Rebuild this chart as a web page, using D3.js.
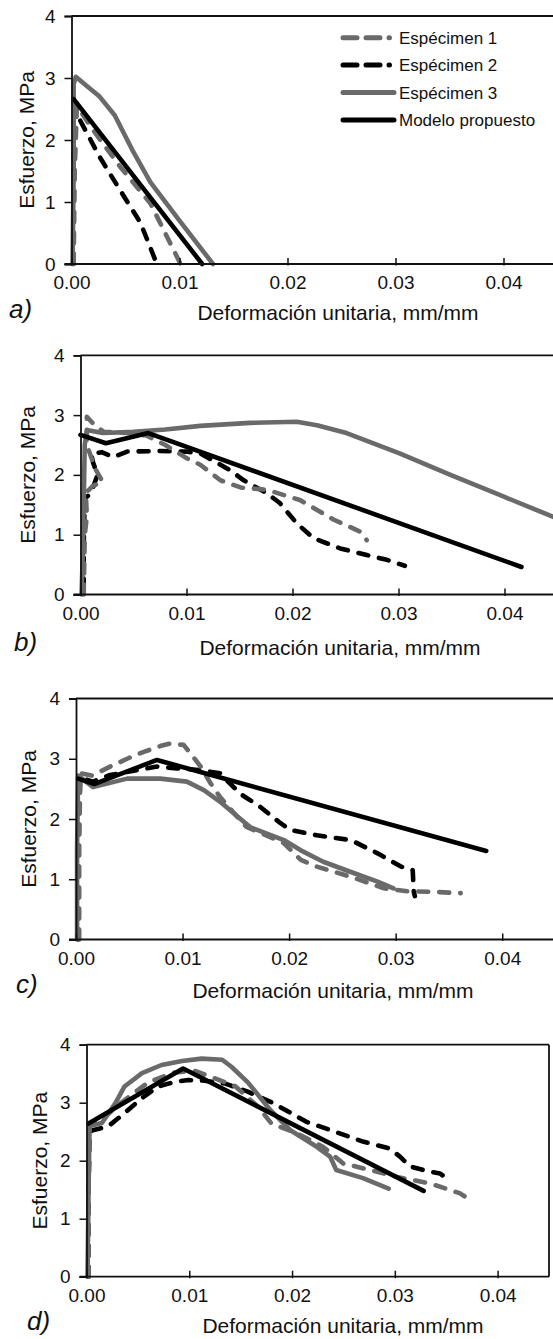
<!DOCTYPE html>
<html>
<head>
<meta charset="utf-8">
<script src="https://cdn.jsdelivr.net/npm/d3@7"></script>
<style>
  body { margin: 0; background: #fff; }
  svg { display: block; }
  text { font-family: "Liberation Sans", Arial, sans-serif; fill: #111; }
</style>
</head>
<body>
<svg id="chart" width="553" height="1339"></svg>
<script>
// ticks and names
const xTicks = [0, 0.01, 0.02, 0.03, 0.04];
const yTicks = [0, 1, 2, 3, 4];
const seriesNames = ["Espécimen 1", "Espécimen 2", "Espécimen 3", "Modelo propuesto"];
const panelLabels = ["a)", "b)", "c)", "d)"];
const xTitle = "Deformación unitaria, mm/mm";
const yTitle = "Esfuerzo, MPa";

// panel a  [strain, stress]
const aSpec1 = [[0.0002, 0], [0.0003, 1.5], [0.0005, 2.55], [0.0020, 2.16], [0.0045, 1.57], [0.0073, 0.98], [0.0101, 0]];
const aSpec2 = [[0.0002, 0], [0.0002, 1.5], [0.0003, 2.5], [0.0006, 2.38], [0.0026, 1.73], [0.0045, 1.19], [0.0064, 0.66], [0.0079, 0]];
const aSpec3 = [[0.0001, 0], [0.0002, 1.5], [0.0002, 2.9], [0.0004, 3.02], [0.0015, 2.86], [0.0026, 2.70], [0.0040, 2.40], [0.0056, 1.85], [0.0073, 1.32], [0.0100, 0.70], [0.0131, 0]];
const aModel = [[0.0002, 2.66], [0.0121, 0]];

// panel b
const bSpec1 = [[0.0003, 0], [0.0004, 1.0], [0.0006, 1.3], [0.0005, 1.7], [0.0012, 1.82], [0.0021, 1.88], [0.0014, 2.1], [0.0006, 2.5], [0.0006, 2.97], [0.0014, 2.82], [0.0022, 2.72], [0.0045, 2.70], [0.0062, 2.66], [0.0080, 2.50], [0.0100, 2.28], [0.0113, 2.17], [0.0132, 1.91], [0.0151, 1.79], [0.0176, 1.75], [0.0207, 1.58], [0.0239, 1.25], [0.0264, 1.05], [0.0270, 0.91]];
const bSpec2 = [[0.0003, 0.1], [0.0003, 0.8], [0.0004, 1.6], [0.0010, 1.7], [0.0016, 2.0], [0.0012, 2.2], [0.0010, 2.35], [0.0020, 2.38], [0.0031, 2.30], [0.0044, 2.39], [0.0075, 2.40], [0.0100, 2.39], [0.0113, 2.36], [0.0141, 2.08], [0.0154, 1.91], [0.0176, 1.69], [0.0188, 1.53], [0.0204, 1.19], [0.0220, 0.94], [0.0245, 0.77], [0.0270, 0.66], [0.0289, 0.58], [0.0306, 0.48]];
const bSpec3 = [[0.0001, 0], [0.0002, 0.6], [0.0003, 1.5], [0.0004, 2.5], [0.0006, 2.75], [0.0021, 2.70], [0.0050, 2.72], [0.0080, 2.76], [0.0113, 2.82], [0.0160, 2.87], [0.0204, 2.89], [0.0223, 2.83], [0.0251, 2.70], [0.0301, 2.36], [0.0349, 2.0], [0.0396, 1.66], [0.0450, 1.27]];
const bModel = [[0, 2.67], [0.0024, 2.53], [0.0064, 2.70], [0.0416, 0.46]];

// panel c
const cSpec1 = [[0.0003, 0], [0.0003, 1.5], [0.0004, 2.76], [0.0015, 2.72], [0.0032, 2.87], [0.0048, 3.0], [0.0063, 3.11], [0.0079, 3.21], [0.0088, 3.25], [0.0101, 3.23], [0.0110, 3.03], [0.0117, 2.87], [0.0126, 2.6], [0.0135, 2.37], [0.0154, 1.98], [0.0160, 1.87], [0.0195, 1.6], [0.0211, 1.32], [0.0226, 1.21], [0.0258, 1.04], [0.0289, 0.85], [0.0311, 0.80], [0.0336, 0.79], [0.0361, 0.77]];
const cSpec2 = [[0.0002, 0], [0.0002, 1.5], [0.0004, 2.68], [0.0016, 2.62], [0.0032, 2.73], [0.0057, 2.81], [0.0076, 2.87], [0.0095, 2.84], [0.0117, 2.81], [0.0135, 2.76], [0.0154, 2.42], [0.0173, 2.2], [0.0192, 1.93], [0.0201, 1.82], [0.0226, 1.73], [0.0258, 1.65], [0.0283, 1.43], [0.0305, 1.21], [0.0316, 1.15], [0.0317, 0.79], [0.0318, 0.72]];
const cSpec3 = [[0.0001, 0], [0.0001, 1.5], [0.0002, 2.72], [0.0016, 2.53], [0.0048, 2.67], [0.0079, 2.67], [0.0104, 2.62], [0.0120, 2.48], [0.0135, 2.29], [0.0151, 2.05], [0.0164, 1.86], [0.0170, 1.82], [0.0195, 1.65], [0.0211, 1.48], [0.0232, 1.29], [0.0258, 1.12], [0.0283, 0.96], [0.0298, 0.85]];
const cModel = [[0.0002, 2.67], [0.0017, 2.58], [0.0076, 2.98], [0.0385, 1.47]];

// panel d
const dSpec1 = [[0.0002, 0], [0.0002, 1.5], [0.0003, 2.6], [0.0015, 2.7], [0.0030, 2.95], [0.0060, 3.35], [0.0085, 3.52], [0.0105, 3.55], [0.0125, 3.42], [0.0145, 3.28], [0.0167, 2.93], [0.0180, 2.64], [0.0205, 2.47], [0.0230, 2.24], [0.0250, 1.95], [0.0276, 1.84], [0.0302, 1.72], [0.0334, 1.61], [0.0363, 1.44], [0.0371, 1.35]];
const dSpec2 = [[0.0002, 0], [0.0002, 1.5], [0.0003, 2.5], [0.0007, 2.53], [0.0021, 2.59], [0.0037, 2.82], [0.0054, 3.08], [0.0070, 3.28], [0.0086, 3.36], [0.0099, 3.39], [0.0115, 3.38], [0.0135, 3.33], [0.0157, 3.19], [0.0182, 2.99], [0.0214, 2.67], [0.0237, 2.53], [0.0269, 2.33], [0.0295, 2.21], [0.0305, 2.07], [0.0315, 1.9], [0.0334, 1.81], [0.0344, 1.78], [0.0352, 1.67]];
const dSpec3 = [[0.0001, 0], [0.0002, 1.5], [0.0003, 2.6], [0.0015, 2.65], [0.0028, 2.99], [0.0037, 3.28], [0.0054, 3.51], [0.0073, 3.65], [0.0093, 3.72], [0.0112, 3.76], [0.0132, 3.74], [0.0141, 3.62], [0.0157, 3.35], [0.0179, 2.87], [0.0198, 2.53], [0.0224, 2.24], [0.0237, 2.07], [0.0243, 1.84], [0.0269, 1.70], [0.0294, 1.52]];
const dModel = [[0.0002, 2.64], [0.0094, 3.59], [0.0328, 1.48]];

const panelSeries = [
    [aSpec1, aSpec2, aSpec3, aModel],
    [bSpec1, bSpec2, bSpec3, bModel],
    [cSpec1, cSpec2, cSpec3, cModel],
    [dSpec1, dSpec2, dSpec3, dModel]
];

// layout of the four plots (pixels)
const layout = [
    { left: 71.5, right: 557.5, top: 16, bottom: 264, yTitleX: 26.5, xTitleX: 338, xTitleY: 320, labX: 9, labY: 318 },
    { left: 80.5, right: 557.5, top: 355.3, bottom: 594.5, yTitleX: 27.5, xTitleX: 340, xTitleY: 655, labX: 14, labY: 651 },
    { left: 76, right: 555.5, top: 698.5, bottom: 939.5, yTitleX: 28.5, xTitleX: 333, xTitleY: 998, labX: 16, labY: 993 },
    { left: 86.5, right: 549, top: 1044.7, bottom: 1276.7, yTitleX: 39.5, xTitleX: 343, xTitleY: 1333, labX: 27, labY: 1330 }
];

const gray = "#6a6a6a";
const styles = [
    { color: gray, dash: "10,11" },
    { color: "#000", dash: "10,11" },
    { color: gray, dash: null },
    { color: "#000", dash: null }
];
// draw black dashed first so the grey rise covers it
const drawOrder = [1, 0, 2, 3];

const svg = d3.select("#chart");

layout.forEach(function (L, i) {
    let x = d3.scaleLinear().domain([0, 0.045]).range([L.left, L.right]);
    let y = d3.scaleLinear().domain([0, 4]).range([L.bottom, L.top]);
    let g = svg.append("g");

    // series lines
    let line = d3.line().x(d => x(d[0])).y(d => y(d[1]));
    drawOrder.forEach(function (k) {
        g.append("path")
            .datum(panelSeries[i][k])
            .attr("d", line)
            .attr("fill", "none")
            .attr("stroke", styles[k].color)
            .attr("stroke-width", 4.6)
            .attr("stroke-linecap", "round")
            .attr("stroke-linejoin", "round")
            .attr("stroke-dasharray", styles[k].dash);
    });

    // frame: top and right
    g.append("line").attr("x1", L.left).attr("x2", L.right).attr("y1", L.top).attr("y2", L.top)
        .attr("stroke", "#111").attr("stroke-width", 1.8);
    g.append("line").attr("x1", L.right).attr("x2", L.right).attr("y1", L.top).attr("y2", L.bottom)
        .attr("stroke", "#111").attr("stroke-width", 1.8);

    // x axis
    let xAxis = g.append("g").attr("transform", `translate(0,${L.bottom})`)
        .call(d3.axisBottom(x).tickValues(xTicks).tickFormat(d3.format(".2f")).tickSize(0).tickPadding(12));
    xAxis.select(".domain").remove();
    xAxis.selectAll(".tick line").remove();
    xAxis.selectAll(".tick").append("line").attr("y1", -6).attr("y2", 1.5).attr("stroke", "#111").attr("stroke-width", 1.5);
    xAxis.selectAll("text").attr("font-size", 19).attr("fill", "#111")
        .attr("font-family", "Liberation Sans, Arial, sans-serif");
    g.append("line").attr("x1", L.left - 7).attr("x2", L.right).attr("y1", L.bottom).attr("y2", L.bottom)
        .attr("stroke", "#111").attr("stroke-width", 1.8);

    // y axis
    let yAxis = g.append("g").attr("transform", `translate(${L.left},0)`)
        .call(d3.axisLeft(y).tickValues(yTicks).tickFormat(d3.format("d")).tickSize(7).tickPadding(9));
    yAxis.select(".domain").attr("stroke", "#111").attr("stroke-width", 1.8);
    yAxis.selectAll(".tick line").attr("stroke", "#111").attr("stroke-width", 1.5);
    yAxis.selectAll("text").attr("font-size", 19).attr("fill", "#111")
        .attr("font-family", "Liberation Sans, Arial, sans-serif");

    // titles
    g.append("text").attr("x", L.xTitleX).attr("y", L.xTitleY)
        .attr("text-anchor", "middle").attr("font-size", 21).text(xTitle);
    g.append("text")
        .attr("transform", `translate(${L.yTitleX + 7},${(L.top + L.bottom) / 2}) rotate(-90)`)
        .attr("text-anchor", "middle").attr("font-size", 21).text(yTitle);
    g.append("text").attr("x", L.labX).attr("y", L.labY)
        .attr("font-family", "Liberation Serif, Times New Roman, serif")
        .attr("font-style", "italic").attr("font-size", 26).text(panelLabels[i]);

    // legend only in panel a
    if (i === 0) {
        let legend = g.append("g");
        seriesNames.forEach(function (name, k) {
            let ly = 37.7 + k * 27.4;
            let dashed = styles[k].dash !== null;
            legend.append("line")
                .attr("x1", 343).attr("x2", dashed ? 389.5 : 394)
                .attr("y1", ly).attr("y2", ly)
                .attr("stroke", styles[k].color)
                .attr("stroke-width", 5)
                .attr("stroke-linecap", "round")
                .attr("stroke-dasharray", dashed ? "14,9" : null);
            legend.append("text").attr("x", 399).attr("y", ly).attr("dy", "0.36em")
                .attr("font-size", 17).text(name);
        });
    }
});
</script>
</body>
</html>
